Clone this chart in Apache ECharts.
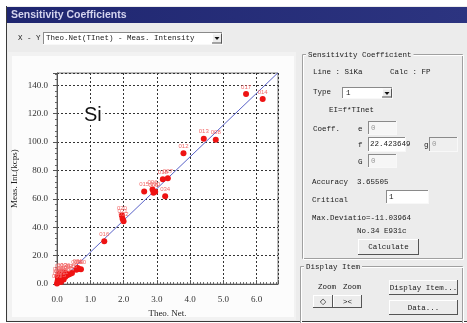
<!DOCTYPE html>
<html>
<head>
<meta charset="utf-8">
<script src="https://cdn.jsdelivr.net/npm/echarts@6/dist/echarts.min.js"></script>
<style>
  html, body { margin: 0; padding: 0; background: #ffffff; }
  #chart { width: 467px; height: 323px; }
</style>
</head>
<body>
<div id="chart"></div>
<script>
// Calibration samples: sample number, theoretical net intensity, measured intensity (kcps)
const sampleNames = ['017', '014', '013', '008', '012', '018', '027', '015', '006', '005', '010', '034',
  '020', '021', '022', '016',
  '001', '002', '003', '004', '007', '009', '011', '019', '023', '024', '025', '026',
  '028', '029', '030', '031', '032', '033', '035', '036'];
const theoNet = [5.68, 6.18, 4.41, 4.77, 3.80, 3.18, 3.33, 2.62, 2.87, 2.90, 2.95, 3.25,
  1.95, 1.97, 2.00, 1.42,
  0.00, 0.02, 0.05, 0.02, 0.10, 0.15, 0.20, 0.25, 0.30, 0.35, 0.40, 0.45,
  0.58, 0.65, 0.72, 0.62, 0.08, 0.15, 0.12, 0.25];
const measInt = [133.9, 130.4, 102.4, 101.7, 92.1, 73.9, 74.6, 65.3, 66.6, 64.3, 65.0, 61.85,
  48.4, 46.1, 44.3, 30.1,
  0.5, 2.3, 3.9, 5.5, 5.1, 6.2, 3.2, 5.1, 6.2, 6.8, 7.3, 7.8,
  10.1, 10.7, 10.5, 11.4, 7.8, 8.5, 1.5, 8.0];

// Calibration coefficient EI = f * TInet
const coeffF = 22.423649;
const fitX = [0, 6.64];

// Axis settings
const xTicks = { min: 0, max: 6.64, interval: 1 };
const yTicks = { min: 0, max: 148.7, interval: 20 };

const scatterData = theoNet.map((x, i) => ({ name: sampleNames[i], value: [x, measInt[i]] }));
const fitData = fitX.map(x => [x, coeffF * x]);

const UI_FONT = 'Liberation Mono';
const SERIF = 'Liberation Serif';

function txt(x, y, s, opts) {
  opts = opts || {};
  return {
    type: 'text', x: x, y: y, z: opts.z || 5,
    style: {
      text: s, fill: opts.fill || '#1a1a1a',
      font: (opts.weight || 'normal') + ' ' + (opts.size || 7.5) + 'px "' + (opts.family || UI_FONT) + '"',
      verticalAlign: 'middle', align: opts.align || 'left',
      backgroundColor: opts.bg, padding: opts.bg ? [0, 2] : 0
    }
  };
}
function box(x, y, w, h, fill, stroke, z) {
  return { type: 'rect', z: z || 3, shape: { x: x, y: y, width: w, height: h },
    style: { fill: fill, stroke: stroke || null, lineWidth: stroke ? 1 : 0 } };
}
function ln(x1, y1, x2, y2, color, z) {
  return { type: 'line', z: z || 4, shape: { x1: x1, y1: y1, x2: x2, y2: y2 },
    style: { stroke: color, lineWidth: 1 } };
}
// sunken edit field
function field(x, y, w, h, fill) {
  return [box(x, y, w, h, fill, null), ln(x, y + 0.5, x + w, y + 0.5, '#8a8a8a'), ln(x + 0.5, y, x + 0.5, y + h, '#8a8a8a'),
    ln(x, y + h - 0.5, x + w, y + h - 0.5, '#f8f8f8'), ln(x + w - 0.5, y, x + w - 0.5, y + h, '#f8f8f8')];
}
// raised push button
function button(x, y, w, h, label) {
  return [box(x, y, w, h, '#ececec', null), ln(x, y + 0.5, x + w, y + 0.5, '#ffffff'), ln(x + 0.5, y, x + 0.5, y + h, '#ffffff'),
    ln(x, y + h - 0.5, x + w, y + h - 0.5, '#555'), ln(x + w - 0.5, y, x + w - 0.5, y + h, '#555'),
    txt(x + w / 2, y + h / 2 + 0.5, label, { align: 'center' })];
}
// etched group frame with caption
function group(x, y, w, h, caption) {
  return [
    { type: 'rect', z: 3, shape: { x: x + 0.5, y: y + 0.5, width: w, height: h }, style: { fill: null, stroke: '#a0a0a0', lineWidth: 1 } },
    { type: 'rect', z: 3, shape: { x: x + 1.5, y: y + 1.5, width: w, height: h }, style: { fill: null, stroke: '#ffffff', lineWidth: 1 } },
    txt(x + 4, y + 1, caption, { bg: '#ececec' })
  ];
}

const uiElements = [].concat(
  // window
  [box(0, 0, 467, 323, '#ffffff', null, -20)],
  [box(6, 6, 461, 316, '#ececec', null, -19)],
  [ln(6.5, 6, 6.5, 322, '#3a3a3a', -18), ln(6, 321.5, 467, 321.5, '#3a3a3a', -18)],
  [{ type: 'rect', z: -18, shape: { x: 7, y: 7, width: 460, height: 16 },
     style: { fill: new echarts.graphic.LinearGradient(0, 0, 1, 0, [{ offset: 0, color: '#1f2670' }, { offset: 1, color: '#2c3480' }]) } }],
  [txt(11, 15.5, 'Sensitivity Coefficients', { family: 'Liberation Sans', size: 10.5, weight: 'bold', fill: '#d4d4ee' })],
  // X - Y selector
  [txt(18, 38.5, 'X - Y')],
  field(43, 32, 180, 13, '#ffffff'),
  [txt(46, 38.5, 'Theo.Net(TInet) - Meas. Intensity')],
  button(212, 33.5, 10, 10, ''),
  [{ type: 'polygon', z: 6, shape: { points: [[214.5, 37], [219.5, 37], [217, 40]] }, style: { fill: '#111' } }],
  // chart panel
  [box(8, 52, 288, 268, '#f2f2f2', null, -17), box(12, 56, 282, 261, '#fcfcfc', null, -16)],
  // Sensitivity Coefficient group
  group(302, 54, 160, 204, 'Sensitivity Coefficient'),
  [txt(313, 72, 'Line : SiKa'), txt(390, 72, 'Calc : FP')],
  [txt(313, 92.5, 'Type')],
  field(342, 87, 51, 12, '#ffffff'),
  [txt(346, 93, '1')],
  button(382, 88.5, 10, 9, ''),
  [{ type: 'polygon', z: 6, shape: { points: [[384.5, 92], [389.5, 92], [387, 95]] }, style: { fill: '#111' } }],
  [txt(329, 110, 'EI=f*TInet')],
  [txt(313, 129, 'Coeff.'), txt(358, 129, 'e')],
  field(368, 121, 29, 14, '#f6f6f6'), [txt(371, 128, '0', { fill: '#999' })],
  [txt(358, 145, 'f')],
  field(368, 137, 38, 15, '#ffffff'), [txt(370, 144.5, '22.423649')],
  [txt(424, 145, 'g')],
  field(429, 137, 29, 15, '#efefef'), [txt(432, 144.5, '0', { fill: '#999' })],
  [txt(358, 162, 'G')],
  field(368, 154, 29, 14, '#f6f6f6'), [txt(371, 161, '0', { fill: '#999' })],
  [txt(312, 182, 'Accuracy  3.65505')],
  [txt(312, 200, 'Critical')],
  field(386, 190, 43, 14, '#ffffff'), [txt(389, 197, '1')],
  [txt(312, 218, 'Max.Deviatio=-11.03964')],
  [txt(357, 231.5, 'No.34 E931c')],
  button(358, 239, 61, 16, 'Calculate'),
  // Display Item group
  group(300, 266, 162, 60, 'Display Item'),
  [txt(318, 287, 'Zoom'), txt(343, 287, 'Zoom')],
  button(313, 295, 20, 13, '\u25C7'),
  button(333, 295, 29, 13, '><'),
  button(389, 280, 69, 15, 'Display Item...'),
  button(389, 300, 69, 15, 'Data...'),
  // element label inside the plot
  [{ type: 'text', x: 83, y: 115, z: 20,
     style: { text: 'Si', fill: '#111', font: '20px "Liberation Sans"', verticalAlign: 'middle', backgroundColor: '#ffffff', padding: [0, 1] } }]
);

const chart = echarts.init(document.getElementById('chart'), null, { renderer: 'canvas' });
chart.setOption({
  animation: false,
  backgroundColor: 'transparent',
  graphic: { elements: uiElements },
  grid: { left: 57, top: 73, right: 189, bottom: 32, show: true, backgroundColor: '#ffffff', borderColor: '#7a7a7a', borderWidth: 1 },
  xAxis: {
    type: 'value', min: xTicks.min, max: xTicks.max, interval: xTicks.interval,
    name: 'Theo. Net.', nameLocation: 'middle', nameGap: 22,
    nameTextStyle: { fontFamily: SERIF, fontSize: 9, color: '#222' },
    axisLine: { show: true, onZero: false, lineStyle: { color: '#555' } },
    axisTick: { show: true, inside: true, length: 4, lineStyle: { color: '#555' } },
    minorTick: { show: true, splitNumber: 10, length: 2, lineStyle: { color: '#666' } },
    axisLabel: { margin: 11, fontFamily: SERIF, fontSize: 9, color: '#333', showMaxLabel: false, formatter: v => v.toFixed(1) },
    splitLine: { show: true, lineStyle: { color: '#333', type: [2, 2], width: 1 } }
  },
  yAxis: {
    type: 'value', min: yTicks.min, max: yTicks.max, interval: yTicks.interval,
    name: 'Meas. Int.(kcps)', nameLocation: 'middle', nameGap: 38,
    nameTextStyle: { fontFamily: SERIF, fontSize: 9, color: '#222' },
    axisLine: { show: true, lineStyle: { color: '#555' } },
    axisTick: { show: true, inside: false, length: 4, lineStyle: { color: '#555' } },
    minorTick: { show: true, splitNumber: 5, length: 2, lineStyle: { color: '#666' } },
    axisLabel: { margin: 9, fontFamily: SERIF, fontSize: 9, color: '#333', showMaxLabel: false, formatter: v => v.toFixed(1) },
    splitLine: { show: true, lineStyle: { color: '#333', type: [2, 2], width: 1 } }
  },
  series: [
    {
      type: 'line', data: fitData, showSymbol: false, z: 3,
      lineStyle: { color: '#5a63c8', width: 1 }
    },
    {
      type: 'scatter', data: scatterData, symbolSize: 6, z: 4,
      itemStyle: { color: '#ee1313', opacity: 1 },
      label: { show: true, position: 'top', distance: 1, formatter: p => p.name,
               fontFamily: 'Liberation Sans', fontSize: 6, color: '#f26a6a' },
      labelLayout: { hideOverlap: false }
    }
  ]
});
</script>
</body>
</html>
